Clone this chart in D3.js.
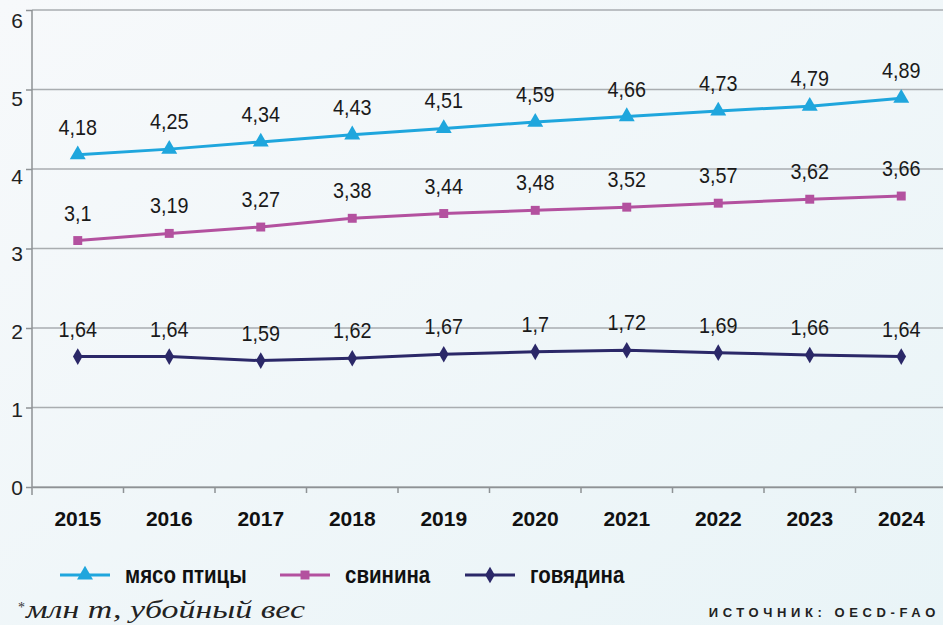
<!DOCTYPE html>
<html>
<head>
<meta charset="utf-8">
<script src="https://cdn.jsdelivr.net/npm/d3@7"></script>
<style>
  body { margin: 0; }
  svg { display: block; }
  text { font-family: "Liberation Sans", Arial, sans-serif; }
</style>
</head>
<body>
<div id="okvir"></div>
<script>
// данные
var years = ["2015", "2016", "2017", "2018", "2019", "2020", "2021", "2022", "2023", "2024"];
var poultry = [4.18, 4.25, 4.34, 4.43, 4.51, 4.59, 4.66, 4.73, 4.79, 4.89];
var pork = [3.1, 3.19, 3.27, 3.38, 3.44, 3.48, 3.52, 3.57, 3.62, 3.66];
var beef = [1.64, 1.64, 1.59, 1.62, 1.67, 1.7, 1.72, 1.69, 1.66, 1.64];
var seriesNames = ["мясо птицы", "свинина", "говядина"];
var yTicks = [0, 1, 2, 3, 4, 5, 6];

var width = 943, height = 625;
var margin = { top: 10, right: -4, bottom: 138, left: 32 };

var svg = d3.select("#okvir").append("svg")
    .attr("width", width)
    .attr("height", height);

// фон
var grad = svg.append("defs").append("linearGradient")
    .attr("id", "bg").attr("x1", 0).attr("y1", 0).attr("x2", 1).attr("y2", 1);
grad.append("stop").attr("offset", "0%").attr("stop-color", "#f7f9fb");
grad.append("stop").attr("offset", "100%").attr("stop-color", "#e9f4f7");
svg.append("rect").attr("width", width).attr("height", height).attr("fill", "url(#bg)");

var x = d3.scaleBand()
    .domain(years)
    .range([margin.left, width - margin.right]);

var y = d3.scaleLinear()
    .domain([0, 6])
    .range([height - margin.bottom, margin.top]);

// сетка
svg.append("g")
    .selectAll("line")
    .data(yTicks)
    .enter()
    .append("line")
    .attr("x1", margin.left)
    .attr("x2", width)
    .attr("y1", d => y(d))
    .attr("y2", d => y(d))
    .attr("stroke", "#a9adb0")
    .attr("stroke-width", 1.5);

// ось Y
var yAxis = svg.append("g")
    .attr("transform", "translate(" + margin.left + ",0)")
    .call(d3.axisLeft(y).tickValues(yTicks).tickSize(6).tickFormat(d3.format("d")));
yAxis.select(".domain").remove();
yAxis.selectAll(".tick line").attr("stroke", "#8e9295").attr("stroke-width", 1.5);
yAxis.selectAll("text")
    .attr("x", -9)
    .attr("dy", d => (7 + d * 1.8) + "px")
    .style("font-size", "21px")
    .attr("fill", "#222");

svg.append("line")
    .attr("x1", margin.left).attr("x2", margin.left)
    .attr("y1", margin.top).attr("y2", y(0) + 8)
    .attr("stroke", "#8e9295").attr("stroke-width", 1.5);

// ось X
var xAxis = svg.append("g")
    .attr("transform", "translate(0," + y(0) + ")")
    .call(d3.axisBottom(x).tickSize(0));
xAxis.select(".domain").attr("stroke", "#8e9295").attr("stroke-width", 1.5);
xAxis.selectAll("text")
    .attr("y", 24)
    .style("font-size", "21px")
    .style("font-weight", "bold")
    .attr("fill", "#111");

// засечки между категориями
svg.append("g")
    .selectAll("line")
    .data(years.slice(1))
    .enter()
    .append("line")
    .attr("x1", d => x(d))
    .attr("x2", d => x(d))
    .attr("y1", y(0))
    .attr("y2", y(0) + 6)
    .attr("stroke", "#8e9295")
    .attr("stroke-width", 1.5);

var cx = d => x(d) + x.bandwidth() / 2;

var series = [
    { name: seriesNames[0], values: poultry, color: "#1fa6dd", marker: d3.symbolTriangle, size: 110 },
    { name: seriesNames[1], values: pork, color: "#b3519f", marker: d3.symbolSquare, size: 80 },
    { name: seriesNames[2], values: beef, color: "#2b2868", marker: d3.symbolDiamond, size: 80 }
];

var line = d3.line()
    .x((d, i) => cx(years[i]))
    .y(d => y(d));

series.forEach(function (s) {
    svg.append("path")
        .datum(s.values)
        .attr("fill", "none")
        .attr("stroke", s.color)
        .attr("stroke-width", 3)
        .attr("d", line);

    svg.append("g")
        .selectAll("path")
        .data(s.values)
        .enter()
        .append("path")
        .attr("d", d3.symbol().type(s.marker).size(s.size))
        .attr("transform", (d, i) => "translate(" + cx(years[i]) + "," + y(d) + ")")
        .attr("fill", s.color);

    // подписи значений (немного сжаты по ширине)
    svg.append("g")
        .selectAll("text")
        .data(s.values)
        .enter()
        .append("text")
        .text(d => String(d).replace(".", ","))
        .attr("transform", (d, i) => "translate(" + cx(years[i]) + "," + (y(d) - 20) + ") scale(0.9,1)")
        .attr("text-anchor", "middle")
        .style("font-size", "22px")
        .attr("fill", "#1a1a1a");
});

// легенда
var legendX = [60, 280, 465];
series.forEach(function (s, i) {
    var g = svg.append("g").attr("transform", "translate(" + legendX[i] + ",575)");
    g.append("line")
        .attr("x1", 0).attr("x2", 50)
        .attr("stroke", s.color).attr("stroke-width", 3);
    g.append("path")
        .attr("d", d3.symbol().type(s.marker).size(s.size))
        .attr("transform", "translate(25,0)")
        .attr("fill", s.color);
    g.append("text")
        .attr("transform", "translate(65,8) scale(0.89,1)")
        .text(s.name)
        .style("font-size", "23px")
        .style("font-weight", "bold")
        .attr("fill", "#111");
});

// подписи
svg.append("text")
    .attr("x", 18)
    .attr("y", 612)
    .style("font-family", "'Liberation Serif', 'DejaVu Serif', serif")
    .style("font-size", "14px")
    .attr("fill", "#333")
    .text("*");

svg.append("text")
    .attr("x", 26)
    .attr("y", 618)
    .attr("textLength", 279)
    .attr("lengthAdjust", "spacingAndGlyphs")
    .style("font-family", "'Liberation Serif', 'DejaVu Serif', serif")
    .style("font-style", "italic")
    .style("font-size", "25px")
    .attr("fill", "#222")
    .text("млн т, убойный вес");

svg.append("text")
    .attr("x", 940)
    .attr("y", 617)
    .attr("text-anchor", "end")
    .style("font-weight", "bold")
    .style("font-size", "13px")
    .style("letter-spacing", "4.6px")
    .attr("fill", "#222")
    .text("ИСТОЧНИК: OECD-FAO");
</script>
</body>
</html>
